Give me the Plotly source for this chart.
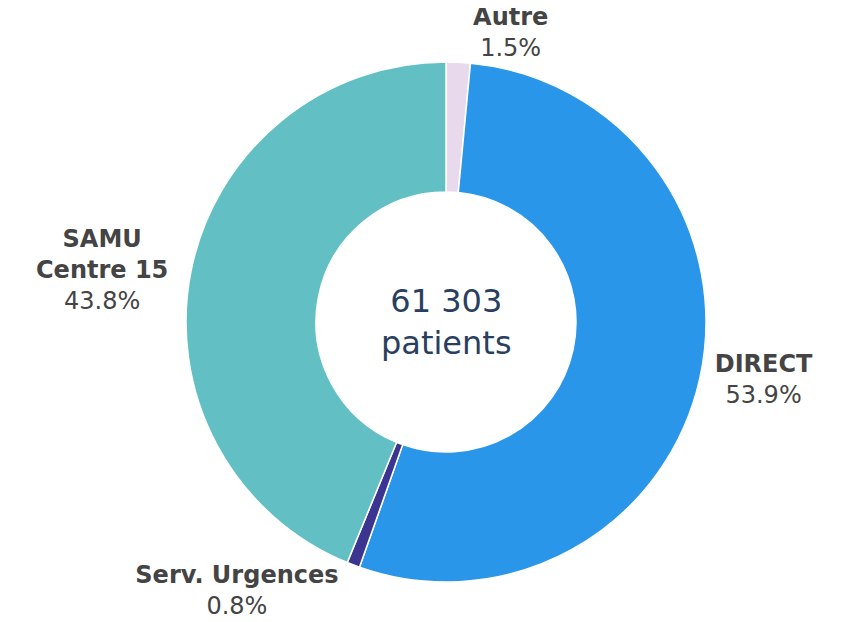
import plotly.graph_objects as go

labels = ["Autre", "DIRECT", "Serv. Urgences", "SAMU<br>Centre 15"]
values = [920, 33042, 490, 26851]
colors = ["#e8d9ec", "#2a96e9", "#3b3591", "#62c0c4"]
center_text = "61 303<br>patients"

fig = go.Figure(go.Pie(
    labels=labels,
    values=values,
    hole=0.5,
    sort=False,
    direction="clockwise",
    rotation=0,
    automargin=False,
    marker=dict(colors=colors, line=dict(color="white", width=1.5)),
    textposition="outside",
    texttemplate="<b>%{label}</b><br>%{percent:.1%}",
    textfont=dict(family="DejaVu Sans, Verdana, sans-serif", size=24, color="#444"),
    showlegend=False,
))

fig.add_annotation(
    text=center_text, x=0.5, y=0.5, xref="paper", yref="paper",
    showarrow=False,
    font=dict(family="DejaVu Sans, Verdana, sans-serif", size=32, color="#2a3f5f"),
)

fig.update_layout(
    width=844, height=622,
    margin=dict(l=50, r=18, t=54, b=48, autoexpand=False),
    paper_bgcolor="white", plot_bgcolor="white",
)

fig.write_html("out.html")
